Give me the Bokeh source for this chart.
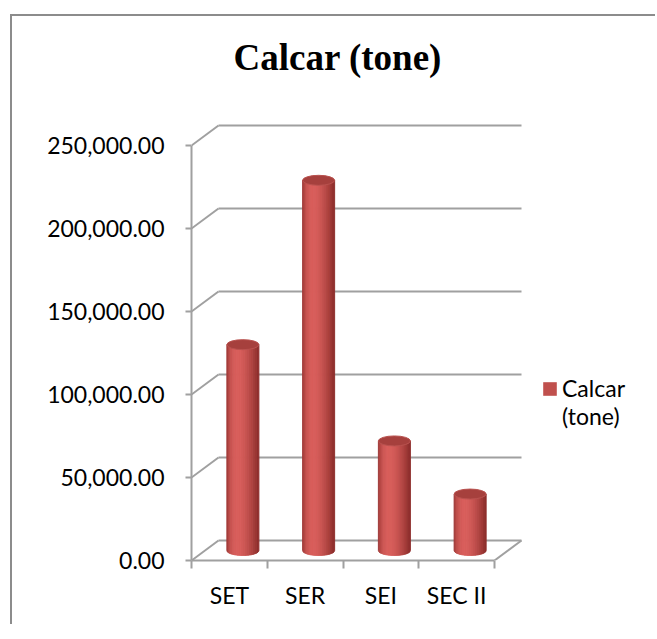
import math
from bokeh.plotting import figure
from bokeh.models import Range1d, FixedTicker, Legend, LegendItem
from bokeh.embed import file_html
from bokeh.resources import INLINE

# ---- data ----
categories = ["SET", "SER", "SEI", "SEC II"]
values = [124000, 223000, 66000, 34000]
y_ticks = [0, 50000, 100000, 150000, 200000, 250000]
y_tick_labels = ["0.00", "50,000.00", "100,000.00", "150,000.00", "200,000.00", "250,000.00"]
series_name = "Calcar (tone)"

# ---- layout / style ----
W, H = 645, 610
FRAME_LEFT = 179
FRAME_RIGHT = 10
FRAME_TOP = 66
FRAME_BOTTOM = 66
PX_X = 75.75            # pixels per category
PX_Y = 415 / 250000     # pixels per unit value
DEPTH_X = 27 / PX_X
DEPTH_Y = 20 / PX_Y
BAR_W = 32 / PX_X
ELL_H = 10 / PX_Y
GRID_COLOR = "#a0a0a0"
FONT = "Lato"

frame_w = W - FRAME_LEFT - FRAME_RIGHT
frame_h = H - FRAME_TOP - FRAME_BOTTOM

p = figure(width=W, height=H, output_backend="svg", toolbar_location=None,
           x_range=Range1d(0, frame_w / PX_X), y_range=Range1d(0, frame_h / PX_Y),
           min_border_left=FRAME_LEFT, min_border_right=FRAME_RIGHT,
           min_border_top=FRAME_TOP, min_border_bottom=FRAME_BOTTOM,
           outline_line_color=None, background_fill_color="white",
           border_fill_color="white")
p.styles = {"margin-left": "10px", "margin-top": "14px",
            "border-left": "2px solid #8c8c8c", "border-top": "2px solid #8c8c8c"}
p.xgrid.visible = False
p.ygrid.visible = False

# title
p.title.text = series_name
p.title.text_font = "Liberation Serif"
p.title.text_font_style = "bold"
p.title.text_font_size = "37px"
p.title.align = "left"
p.title.offset = 42
p.title.text_color = "black"

# ---- 3D frame: walls and floor ----
n = len(categories)
gx0, gy0, gx1, gy1 = [], [], [], []
for t in y_ticks:
    gx0.append(0); gy0.append(t); gx1.append(DEPTH_X); gy1.append(t + DEPTH_Y)
    gx0.append(DEPTH_X); gy0.append(t + DEPTH_Y); gx1.append(n + DEPTH_X); gy1.append(t + DEPTH_Y)
gx0.append(n); gy0.append(0); gx1.append(n + DEPTH_X); gy1.append(DEPTH_Y)
p.segment(x0=gx0, y0=gy0, x1=gx1, y1=gy1, line_color=GRID_COLOR, line_width=2)

# ---- cylinders ----
def mix(c1, c2, f):
    return "#%02x%02x%02x" % tuple(int(round(a + (b - a) * f)) for a, b in zip(c1, c2))

DARK = (138, 44, 42)
LIGHT = (216, 94, 91)
NSTRIP = 24
strip_colors = []
for k in range(NSTRIP):
    t = (k + 0.5) / NSTRIP
    shape = math.sin(math.pi * t ** 0.66) ** 0.9
    strip_colors.append(mix(DARK, LIGHT, shape))

xs, ys, cols = [], [], []
tops_x, tops_y = [], []
for i, v in enumerate(values):
    xc = i + 0.5 + DEPTH_X / 2
    y0 = DEPTH_Y / 2
    y1 = v + DEPTH_Y / 2
    r = BAR_W / 2
    for k in range(NSTRIP):
        xa = xc - r + 2 * r * k / NSTRIP
        xb = xc - r + 2 * r * (k + 1) / NSTRIP
        px = [xa, xb]
        py = [y1, y1]
        for j in range(4, -1, -1):
            x = xa + (xb - xa) * j / 4
            u = max(0.0, 1 - ((x - xc) / r) ** 2)
            px.append(x)
            py.append(y0 - ELL_H / 2 * math.sqrt(u))
        xs.append(px); ys.append(py); cols.append(strip_colors[k])
    tops_x.append(xc); tops_y.append(y1)

p.patches(xs=xs, ys=ys, fill_color=cols, line_color=cols, line_width=1)
p.ellipse(x=tops_x, y=tops_y, width=BAR_W, height=ELL_H,
          fill_color="#a6403d", line_color="#b9524f", line_width=1)

# ---- axes ----
ya = p.yaxis[0]
ya.ticker = FixedTicker(ticks=y_ticks, minor_ticks=[])
ya.major_label_overrides = {t: s for t, s in zip(y_ticks, y_tick_labels)}
ya.bounds = (0, y_ticks[-1])
ya.axis_line_color = GRID_COLOR
ya.axis_line_width = 2
ya.major_tick_line_color = GRID_COLOR
ya.major_tick_line_width = 2
ya.major_tick_out = 6
ya.major_tick_in = 0
ya.major_label_standoff = 21
ya.major_label_text_font = FONT
ya.major_label_text_font_size = "23px"
ya.major_label_text_color = "black"

xa = p.xaxis[0]
centers = [i + 0.5 for i in range(n)]
xa.ticker = FixedTicker(ticks=centers, minor_ticks=list(range(n + 1)))
xa.major_label_overrides = {c: s for c, s in zip(centers, categories)}
xa.bounds = (0, n)
xa.axis_line_color = GRID_COLOR
xa.axis_line_width = 2
xa.major_tick_out = 0
xa.major_tick_in = 0
xa.minor_tick_line_color = GRID_COLOR
xa.minor_tick_line_width = 2
xa.minor_tick_out = 8
xa.minor_tick_in = 0
xa.major_label_standoff = 12
xa.major_label_text_font = FONT
xa.major_label_text_font_size = "23px"
xa.major_label_text_color = "black"

# ---- legend (series name wrapped over two lines, swatch beside the first) ----
proxy = p.quad(left=[0], right=[0], top=[0], bottom=[0], fill_color="#c0504d", line_color=None)
blank = p.quad(left=[0], right=[0], top=[0], bottom=[0], fill_alpha=0, line_alpha=0)
name_lines = series_name.split(" ")
legend = Legend(items=[LegendItem(label=name_lines[0], renderers=[proxy]),
                       LegendItem(label=name_lines[1], renderers=[blank])],
                location=(350, 130), border_line_color=None, background_fill_alpha=0,
                padding=0, margin=0, spacing=0, glyph_width=17, glyph_height=17,
                label_standoff=4, label_text_font=FONT, label_text_font_size="23px",
                label_height=25, label_text_color="black")
p.add_layout(legend)

open("out.html", "w").write(file_html(p, INLINE))
